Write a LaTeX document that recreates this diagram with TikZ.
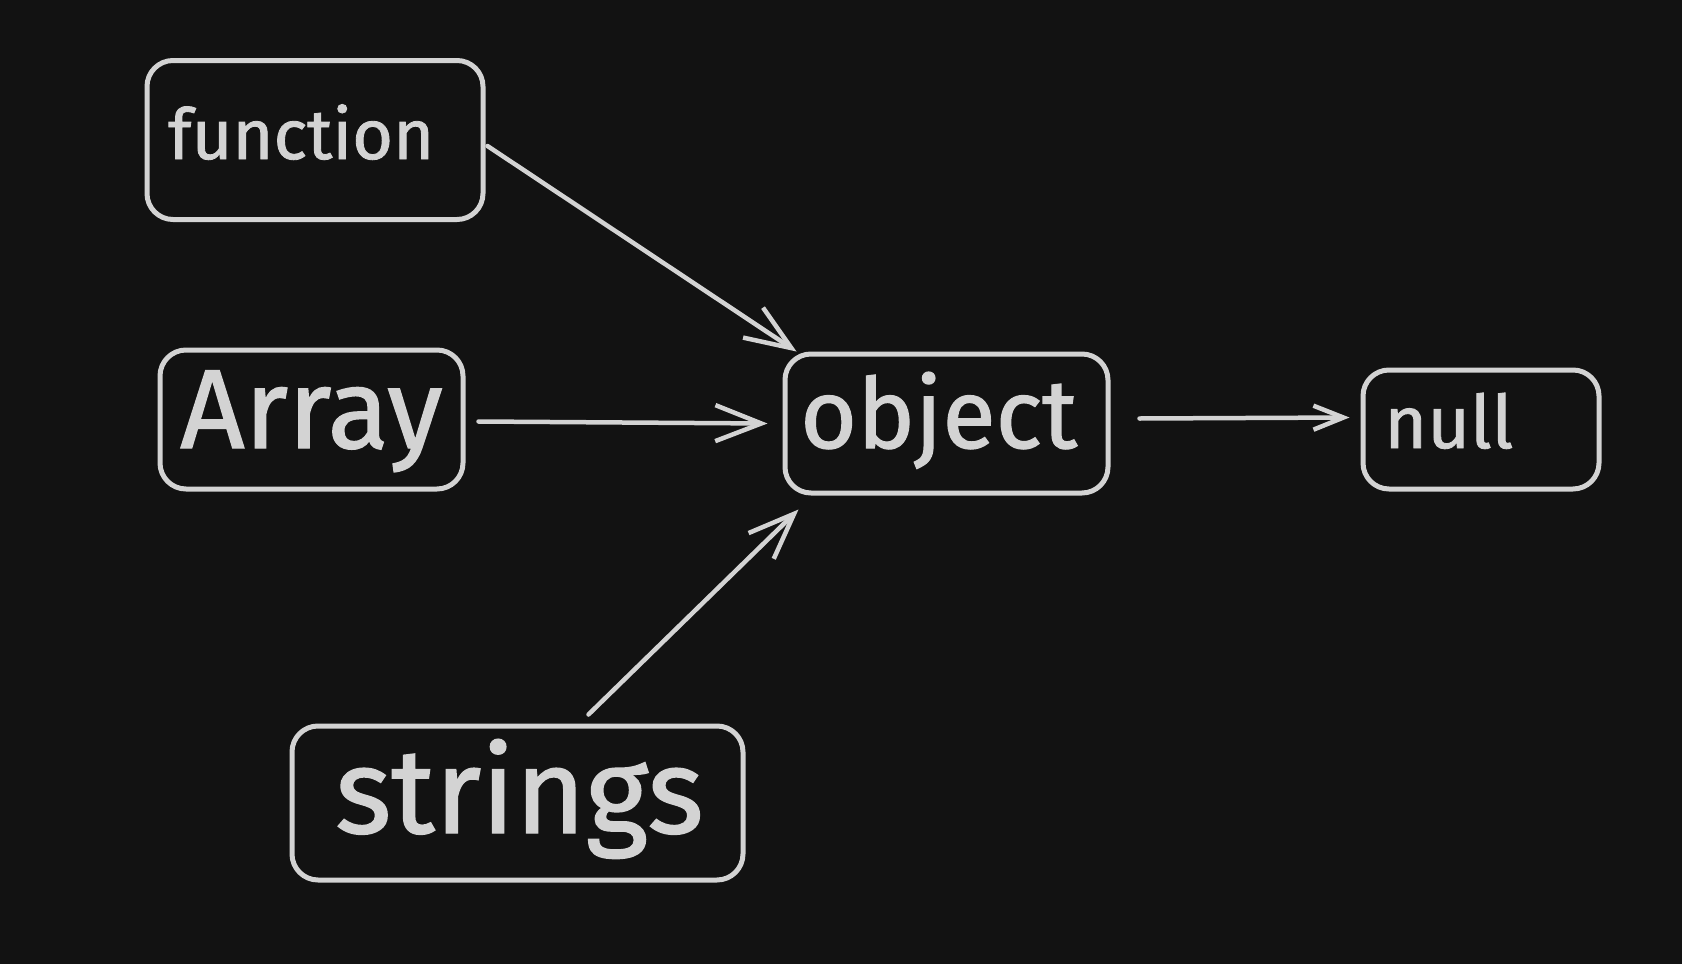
\documentclass[tikz,border=0pt]{standalone}
\usepackage{fontspec}
\usepackage{graphicx}
\setmainfont{Fira Sans}
\newfontfamily\lblfont{Fira Sans}[FakeBold=1.2]
\usetikzlibrary{arrows.meta,calc}
\definecolor{bg}{HTML}{121212}
\definecolor{ink}{HTML}{D3D3D3}
\tikzset{
  box/.style={draw=ink, line width=5pt, rounded corners=26pt, inner sep=0pt},
  lbl/.style={text=ink, inner sep=0pt, anchor=base west, font=\lblfont},
  conn/.style={draw=ink, line width=4.5pt, line cap=round,
    -{Straight Barb[length=46pt,width=36pt,line width=4.5pt]}},
  smallhead/.style={-{Straight Barb[length=30pt,width=24pt,line width=4.5pt]}},
}
\begin{document}
\begin{tikzpicture}[x=1pt,y=-1pt]
\fill[bg] (0,0) rectangle (1682,964);
\useasboundingbox (0,0) rectangle (1682,964);
% boxes
\node[box, minimum width=336pt, minimum height=159pt] (fn) at (315,140) {};
\node[box, minimum width=303pt, minimum height=139pt] (arr) at (311.5,419.5) {};
\node[box, minimum width=323pt, minimum height=139pt] (obj) at (946.5,423.5) {};
\node[box, minimum width=236pt, minimum height=119pt] (nul) at (1481,429.5) {};
\node[box, minimum width=451pt, minimum height=154pt] (str) at (517.5,803) {};
% labels
\node[lbl] (tfn) at (168,159) {\resizebox{266pt}{!}{function}};
\node[lbl] (tarr) at (180,448) {\resizebox{262pt}{!}{Array}};
\node[lbl] (tobj) at (800,448) {\resizebox{277pt}{!}{object}};
\node[lbl] (tnul) at (1384,448) {\resizebox{129pt}{!}{null}};
\node[lbl] (tstr) at (335,833) {\resizebox{368pt}{!}{strings}};
% connectors
\draw[conn] ($(fn.east)+(2,6)$) -- ($(obj.north west)+(14,0)$);
\draw[conn] ($(arr.east)+(13,2)$) -- ($(obj.west)+(-15,0)$);
\draw[conn] ($(str.north)+(71,-9)$) -- ($(obj.south west)+(16,14)$);
\draw[conn, smallhead] ($(obj.east)+(29,-5)$) -- ($(nul.west)+(-11,-12)$);
\end{tikzpicture}
\end{document}
